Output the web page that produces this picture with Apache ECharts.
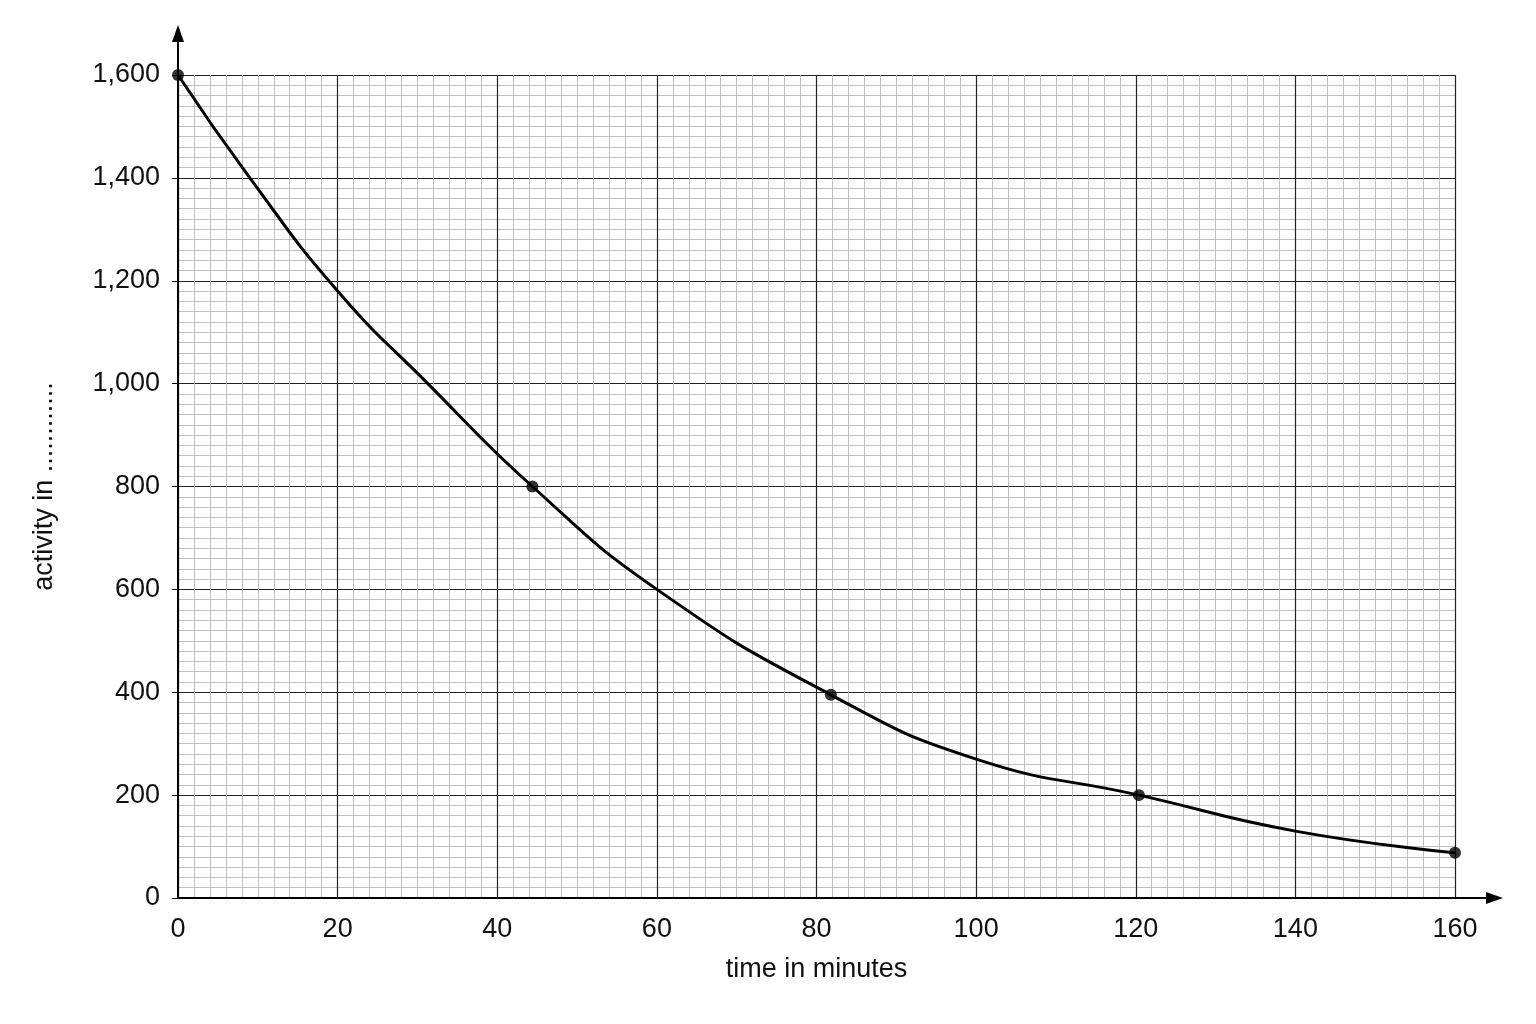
<!DOCTYPE html>
<html><head><meta charset="utf-8">
<script src="https://cdn.jsdelivr.net/npm/echarts@6/dist/echarts.min.js"></script>
<style>html,body{margin:0;background:#fff}#c{width:1536px;height:1024px}</style>
</head><body><div id="c"></div>
<script>
const xTicks=[0,20,40,60,80,100,120,140,160];
const yTicks=[0,200,400,600,800,1000,1200,1400,1600];
const curveX=[0,9,20,31.3,44.4,60,81.8,100,120.4,140,160];
const curveY=[1600,1400,1180,1000,800,600,395,270,200,130,88];
const pointX=[0,44.4,81.8,120.4,160];
const pointY=[1600,800,395,200,88];
const chart=echarts.init(document.getElementById('c'));
const font='Liberation Sans, Arial, sans-serif';
chart.setOption({
  animation:false,
  grid:{left:178,top:75,right:81,bottom:126},
  xAxis:{type:'value',min:0,max:160,interval:20,splitNumber:8,
    name:'time in minutes',nameLocation:'middle',nameGap:58,
    nameTextStyle:{fontSize:27,color:'#111',fontFamily:font},
    axisLabel:{fontSize:27,color:'#111',fontFamily:font,margin:18},
    axisTick:{show:false},axisLine:{lineStyle:{color:'#000',width:2}},
    splitLine:{show:true,lineStyle:{color:'#222',width:1.2}},
    minorTick:{show:false,splitNumber:10},
    minorSplitLine:{show:true,lineStyle:{color:'#b0b0b0',width:0.8}}},
  yAxis:{type:'value',min:0,max:1600,interval:200,
    name:'activity in ............',nameLocation:'middle',nameGap:120,nameRotate:90,
    nameTextStyle:{fontSize:27,color:'#111',fontFamily:font},
    axisLabel:{fontSize:27,color:'#111',fontFamily:font,margin:18},
    axisTick:{show:true,length:6,inside:false,lineStyle:{color:'#000'}},
    axisLine:{lineStyle:{color:'#000',width:2}},
    splitLine:{show:true,lineStyle:{color:'#222',width:1.2}},
    minorTick:{show:false,splitNumber:10},
    minorSplitLine:{show:true,lineStyle:{color:'#b0b0b0',width:0.8}}},
  series:[
    {type:'line',smooth:0.5,showSymbol:false,data:curveX.map((x,i)=>[x,curveY[i]]),lineStyle:{color:'#000',width:3},z:5},
    {type:'scatter',symbolSize:12,data:pointX.map((x,i)=>[x,pointY[i]]),itemStyle:{color:'#000'},z:6}
  ],
  graphic:[
    {type:'line',shape:{x1:178,y1:898,x2:178,y2:35},style:{stroke:'#000',lineWidth:2}},
    {type:'polygon',shape:{points:[[178,25],[172,42],[184,42]]},style:{fill:'#000'}},
    {type:'line',shape:{x1:178,y1:898,x2:1492,y2:898},style:{stroke:'#000',lineWidth:2}},
    {type:'polygon',shape:{points:[[1503,898],[1486,892],[1486,904]]},style:{fill:'#000'}}
  ]
});
</script></body></html>
